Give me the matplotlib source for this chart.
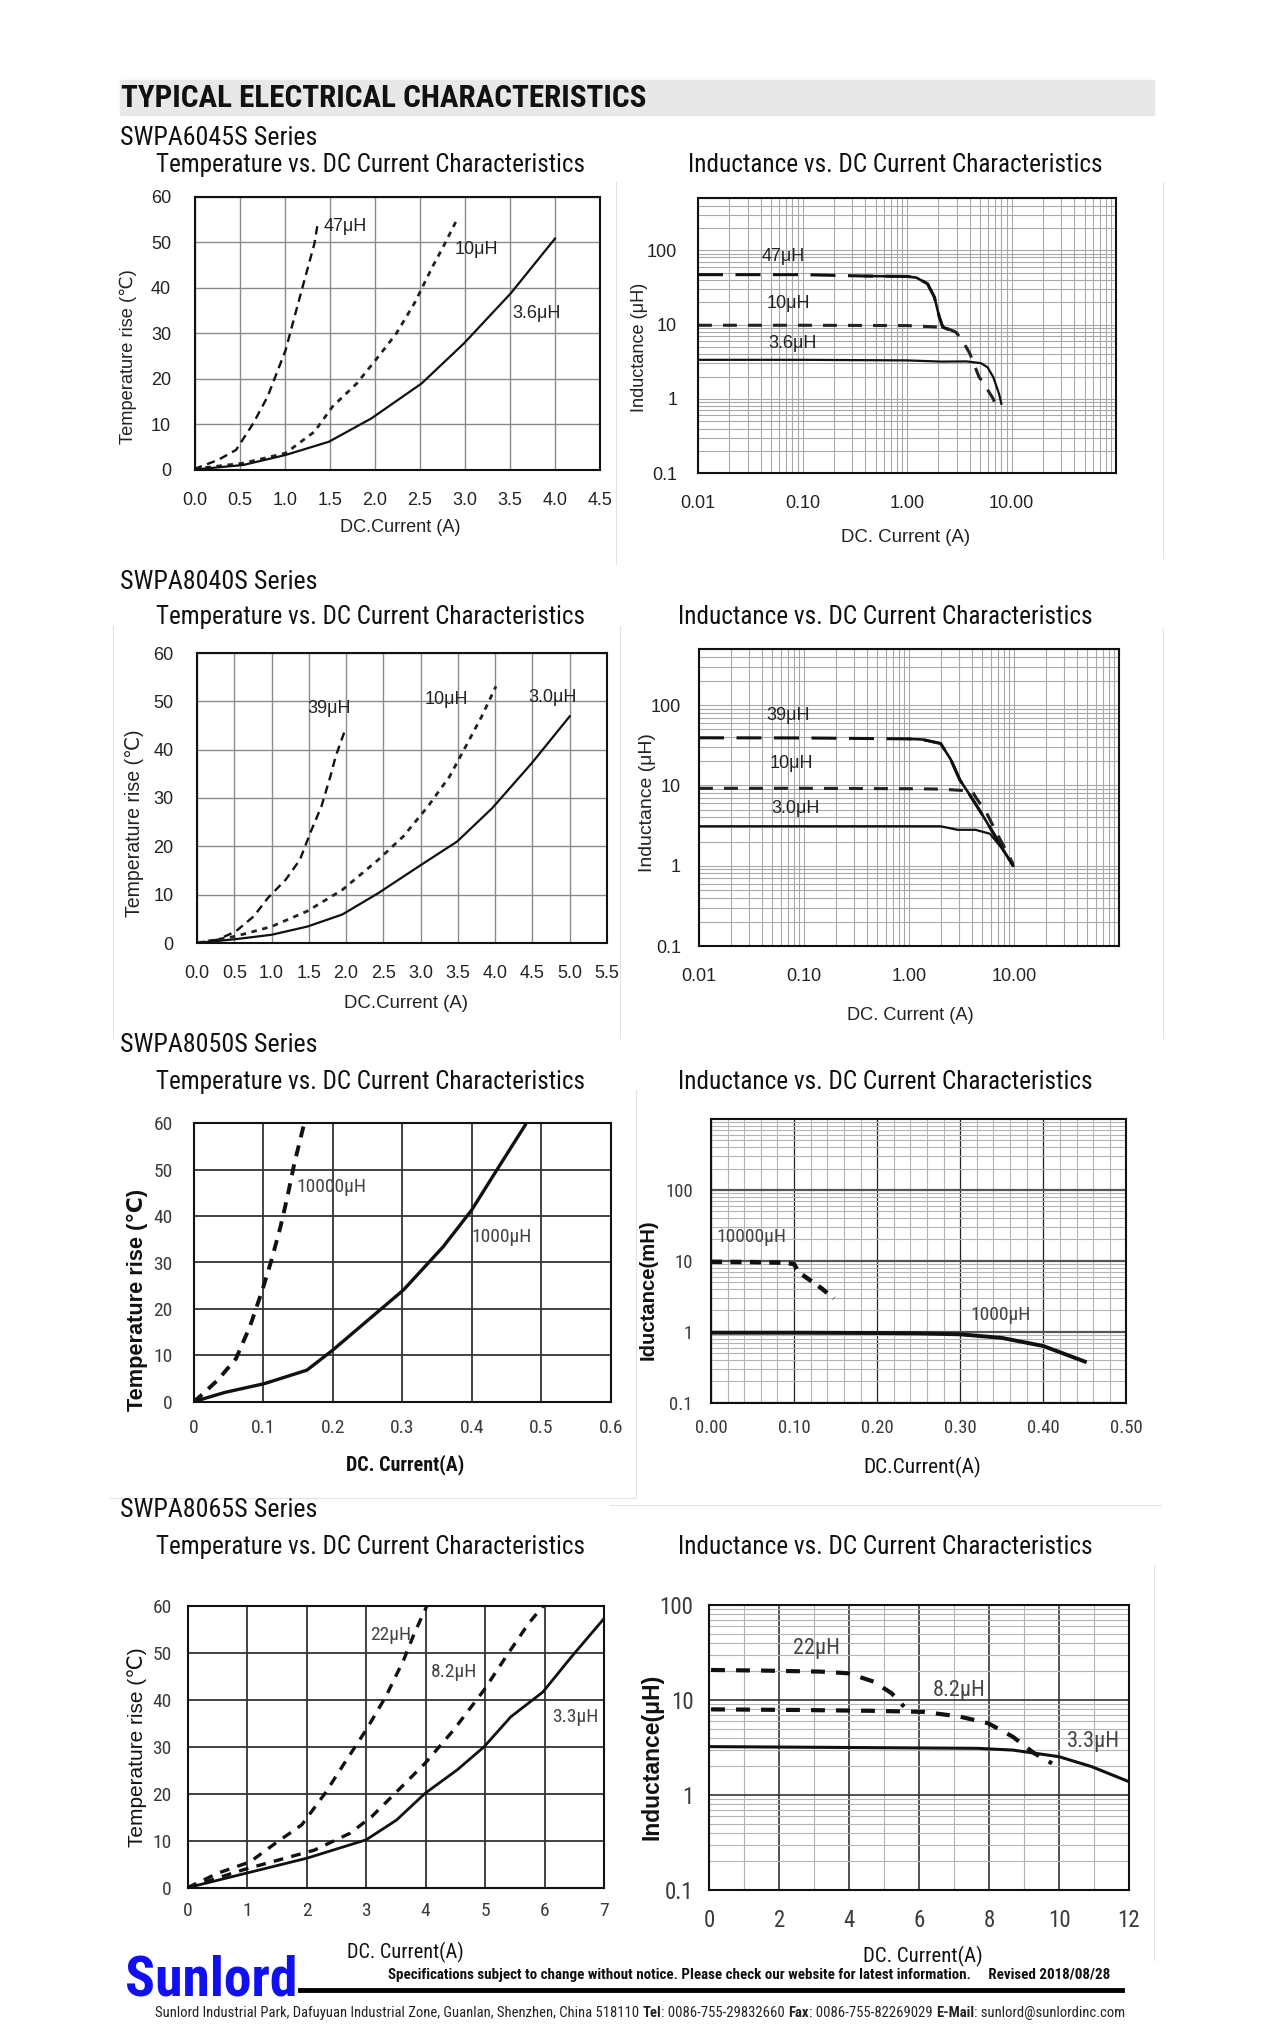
import matplotlib
matplotlib.use('Agg')
import matplotlib.pyplot as plt
from matplotlib.ticker import FixedLocator, NullFormatter, MultipleLocator, LogLocator
import matplotlib.font_manager as fm
from matplotlib.font_manager import FontProperties

W, H = 1266, 2032
plt.rcParams['font.family'] = ['Liberation Sans', 'DejaVu Sans']
plt.rcParams['lines.scale_dashes'] = False

# ---------------- data ----------------
# SWPA6045S temperature rise
t6045_47_x = [0.0, 0.02, 0.26, 0.46, 0.65, 0.81, 1.01, 1.11, 1.21, 1.33, 1.37]
t6045_47_y = [0.0, 0.4, 2.2, 4.4, 10.2, 16.1, 26.3, 33.7, 41.0, 49.7, 54.5]
t6045_10_x = [0.0, 0.06, 0.54, 1.01, 1.33, 1.53, 1.80, 2.04, 2.24, 2.44, 2.64, 2.76, 2.91]
t6045_10_y = [0.0, 0.4, 1.5, 3.7, 8.4, 13.9, 19.0, 24.9, 30.0, 36.6, 44.6, 49.0, 54.9]
t6045_36_x = [0.0, 0.54, 1.01, 1.49, 1.96, 2.52, 2.99, 3.51, 4.0]
t6045_36_y = [0.1, 1.1, 3.3, 6.2, 11.3, 19.0, 27.8, 38.8, 50.8]
# SWPA6045S inductance
l6045_47_x = [0.01, 0.1, 0.4, 1.0, 1.23, 1.57, 1.83, 2.04, 2.2, 2.5]
l6045_47_y = [47, 47, 45, 44.5, 42.8, 35.5, 23.4, 12.6, 9.25, 8.6]
l6045_10_x = [0.01, 0.1, 1.0, 2.3, 2.94, 3.4, 4.0, 4.5, 4.9, 5.3, 5.7, 6.7, 7.4]
l6045_10_y = [9.8, 9.8, 9.7, 9.2, 7.9, 6.1, 4.05, 2.67, 1.96, 1.7, 1.44, 1.0, 0.66]
l6045_36_x = [0.01, 0.1, 1.0, 2.14, 3.7, 5.1, 5.9, 6.7, 7.6, 8.0]
l6045_36_y = [3.36, 3.36, 3.3, 3.18, 3.2, 3.03, 2.67, 1.96, 1.17, 0.86]
# SWPA8040S temperature rise
t8040_39_x = [0.0, 0.04, 0.28, 0.52, 0.76, 0.95, 1.19, 1.38, 1.52, 1.67, 1.79, 1.86, 1.98]
t8040_39_y = [0.0, 0.1, 0.7, 2.4, 5.5, 9.3, 13.1, 17.2, 22.8, 28.3, 34.5, 38.6, 43.8]
t8040_10_x = [0.0, 0.52, 1.0, 1.48, 1.95, 2.43, 2.77, 3.1, 3.39, 3.63, 3.82, 4.01]
t8040_10_y = [0.0, 1.4, 3.4, 6.6, 11.0, 17.2, 22.1, 28.3, 34.5, 41.4, 46.9, 53.1]
t8040_30_x = [0.0, 0.52, 1.0, 1.48, 1.95, 2.43, 3.01, 3.49, 3.96, 4.49, 5.0]
t8040_30_y = [0.0, 0.8, 1.7, 3.4, 5.9, 10.3, 16.2, 21.0, 27.9, 37.2, 46.9]
# SWPA8040S inductance
l8040_39_x = [0.01, 0.1, 0.99, 1.34, 2.0, 2.5, 3.05, 3.7, 4.7, 5.9, 7.5, 9.8]
l8040_39_y = [39.2, 39.0, 38.0, 37.3, 33.3, 21.0, 11.7, 8.0, 4.9, 3.0, 1.78, 1.0]
l8040_10_x = [0.01, 0.1, 1.0, 2.0, 4.0, 4.3, 5.5, 6.9, 8.1, 9.8]
l8040_10_y = [9.2, 9.2, 9.1, 9.0, 8.5, 7.2, 4.5, 2.5, 1.7, 1.05]
l8040_30_x = [0.01, 0.1, 1.0, 2.0, 2.9, 4.3, 5.9, 7.5, 9.8]
l8040_30_y = [3.1, 3.1, 3.1, 3.1, 2.8, 2.8, 2.5, 1.7, 1.0]
# SWPA8050S temperature rise
t8050_10000_x = [0.0, 0.009, 0.035, 0.061, 0.081, 0.099, 0.112, 0.125, 0.135, 0.145, 0.158]
t8050_10000_y = [0.0, 1.1, 4.7, 9.3, 16.2, 24.1, 30.5, 37.7, 44.2, 51.4, 59.3]
t8050_1000_x = [0.0, 0.045, 0.102, 0.163, 0.2, 0.251, 0.302, 0.359, 0.4, 0.436, 0.477]
t8050_1000_y = [0.0, 2.0, 3.9, 6.8, 11.1, 17.6, 24.1, 33.4, 41.3, 49.9, 59.6]
# SWPA8050S inductance (mH)
l8050_10000_x = [0.0, 0.05, 0.09, 0.10, 0.105, 0.133, 0.148]
l8050_10000_y = [9.7, 9.6, 9.4, 9.0, 7.0, 4.1, 2.95]
l8050_1000_x = [0.0, 0.1, 0.2, 0.25, 0.3, 0.35, 0.4, 0.45]
l8050_1000_y = [0.97, 0.97, 0.96, 0.95, 0.92, 0.82, 0.63, 0.38]
# SWPA8065S temperature rise
t8065_22_x = [0.0, 0.51, 1.05, 1.47, 1.92, 2.31, 2.67, 3.0, 3.33, 3.63, 3.81, 4.02]
t8065_22_y = [0.0, 3.1, 5.5, 9.4, 13.4, 20.1, 27.2, 33.6, 40.7, 48.5, 54.2, 60.0]
t8065_82_x = [0.0, 0.93, 1.53, 2.13, 2.73, 3.09, 3.51, 3.99, 4.47, 4.98, 5.37, 5.73, 5.97]
t8065_82_y = [0.0, 3.8, 5.9, 8.0, 11.6, 15.1, 20.4, 26.5, 33.6, 42.1, 49.6, 56.3, 60.0]
t8065_33_x = [0.0, 0.99, 2.01, 3.0, 3.51, 3.99, 4.53, 4.98, 5.43, 5.97, 6.45, 7.0]
t8065_33_y = [0.0, 3.1, 6.3, 10.2, 14.4, 20.1, 25.1, 30.0, 36.4, 41.7, 49.2, 57.4]
# SWPA8065S inductance
l8065_22_x = [0.05, 1.53, 3.17, 3.98, 4.7, 5.21, 5.57]
l8065_22_y = [20.7, 20.4, 19.9, 19.1, 15.6, 11.8, 8.5]
l8065_82_x = [0.05, 2.55, 4.6, 6.13, 7.15, 7.97, 8.68, 9.29, 9.8]
l8065_82_y = [7.97, 7.85, 7.7, 7.5, 6.7, 5.7, 4.1, 2.75, 2.15]
l8065_33_x = [0.0, 3.57, 7.66, 8.68, 10.0, 10.93, 12.0]
l8065_33_y = [3.23, 3.17, 3.1, 2.97, 2.53, 1.99, 1.38]

# tick labels
tx_6045 = ['0.0', '0.5', '1.0', '1.5', '2.0', '2.5', '3.0', '3.5', '4.0', '4.5']
tx_8040 = ['0.0', '0.5', '1.0', '1.5', '2.0', '2.5', '3.0', '3.5', '4.0', '4.5', '5.0', '5.5']
tx_8050 = ['0', '0.1', '0.2', '0.3', '0.4', '0.5', '0.6']
tx_8050L = ['0.00', '0.10', '0.20', '0.30', '0.40', '0.50']
tx_8065 = ['0', '1', '2', '3', '4', '5', '6', '7']
tx_8065L = ['0', '2', '4', '6', '8', '10', '12']
tx_log = ['0.01', '0.10', '1.00', '10.00']
ty_temp = ['0', '10', '20', '30', '40', '50', '60']
ty_log = ['0.1', '1', '10', '100']


# ---------------- narrow font lookup ----------------
def _wt(f):
    w = f.weight
    if isinstance(w, str):
        return 700 if 'bold' in w.lower() else 400
    return w


def find_narrow(bold):
    ents = [f for f in fm.fontManager.ttflist if f.style == 'normal']
    want = 700 if bold else 400

    def ok_w(f):
        return abs(_wt(f) - want) <= 100

    for name in ['Liberation Sans Narrow', 'Arial Narrow', 'Roboto Condensed',
                 'Open Sans Condensed', 'DejaVu Sans Condensed', 'Noto Sans Condensed']:
        for f in ents:
            if f.name == name and ok_w(f):
                return f.fname
    for fam in ['Liberation Sans', 'Roboto', 'Noto Sans', 'Open Sans', 'DejaVu Sans']:
        for st in ['condensed', 'semi-condensed']:
            for f in ents:
                if f.name == fam and str(f.stretch) == st and ok_w(f):
                    return f.fname
    return None


_nr = find_narrow(False)
_nb = find_narrow(True)


def NF(bold=False):
    fn = _nb if bold else _nr
    if fn:
        return {'fontproperties': FontProperties(fname=fn)}
    return {'family': ['Liberation Sans', 'DejaVu Sans'], 'weight': 'bold' if bold else 'normal'}


def NFP(size):
    if _nr:
        return FontProperties(fname=_nr, size=size)
    return FontProperties(family=['Liberation Sans', 'DejaVu Sans'], size=size * 0.88)


# ---------------- figure ----------------
fig = plt.figure(figsize=(W / 100, H / 100), dpi=100)
fig.patch.set_facecolor('white')
R = fig.canvas.get_renderer()


def fx(x):
    return x / W


def fy(y):
    return 1 - y / H


def ftext(x, y, s, width=None, size=12, rotation=0, ha='left', va='center', **kw):
    t = fig.text(fx(x), fy(y), s, rotation=rotation, ha=ha, va=va, **kw)
    t.set_fontsize(size)
    if width:
        bb = t.get_window_extent(renderer=R)
        ext = bb.height if rotation else bb.width
        t.set_fontsize(size * width / ext)
    return t


def fline(x0, y0, x1, y1, color='#e2e2e2', lw=0.8):
    fig.lines.append(plt.Line2D([fx(x0), fx(x1)], [fy(y0), fy(y1)],
                                transform=fig.transFigure, color=color, lw=lw))


def make_axes(l, r, t, b):
    ax = fig.add_axes([fx(l), fy(b), (r - l) / W, (b - t) / H])
    for s in ax.spines.values():
        s.set_linewidth(1.5)
        s.set_color('#111111')
    ax.set_axisbelow(True)
    return ax


def narrow_ticks(ax, size):
    for t in ax.get_xticklabels() + ax.get_yticklabels():
        t.set_fontproperties(NFP(size))
        t.set_color('#3a3a3a')


def lin_panel(ax, xmax, xstep, xlabels, xpad, ypad, fs, gc, glw, tcolor='#222222'):
    ax.set_xlim(0, xmax)
    ax.set_ylim(0, 60)
    n = len(xlabels)
    ax.set_xticks([i * xstep for i in range(n)])
    ax.set_xticklabels(xlabels)
    ax.set_yticks([i * 10 for i in range(len(ty_temp))])
    ax.set_yticklabels(ty_temp)
    ax.grid(True, color=gc, lw=glw)
    ax.tick_params(length=0, labelsize=fs, labelcolor=tcolor)
    ax.tick_params(axis='x', pad=xpad)
    ax.tick_params(axis='y', pad=ypad)


def log_panel(ax, ytop, xpad, ypad, fs):
    ax.set_xscale('log')
    ax.set_yscale('log')
    ax.set_xlim(0.01, 100)
    ax.set_ylim(0.1, ytop)
    ax.xaxis.set_major_locator(FixedLocator([0.01, 0.1, 1, 10]))
    ax.set_xticklabels(tx_log)
    ax.yaxis.set_major_locator(FixedLocator([0.1, 1, 10, 100]))
    ax.set_yticklabels(ty_log)
    ax.xaxis.set_minor_locator(LogLocator(base=10, subs=range(2, 10), numticks=20))
    ax.yaxis.set_minor_locator(LogLocator(base=10, subs=range(2, 10), numticks=20))
    ax.xaxis.set_minor_formatter(NullFormatter())
    ax.yaxis.set_minor_formatter(NullFormatter())
    ax.grid(True, which='both', color='#a8a8a8', lw=0.8)
    ax.tick_params(which='both', length=0, labelsize=fs, labelcolor='#222222')
    ax.tick_params(axis='x', pad=xpad)
    ax.tick_params(axis='y', pad=ypad)


def plot_split(ax, xs, ys, thr, lw, dashes):
    ax.plot(xs, ys, color='#111', lw=lw, dashes=dashes)
    sx = [x for x in xs if x >= thr]
    sy = [y for x, y in zip(xs, ys) if x >= thr]
    ax.plot(sx, sy, color='#111', lw=lw * 0.85)


def nlabel(ax, x, y, s, size=14):
    ax.text(x, y, s, fontproperties=NFP(size), color='#444444', ha='left', va='center')


LBL = dict(fontsize=13, color='#222222', ha='left', va='center')

# ---------- faint chart-area borders ----------
fline(616, 182, 616, 564)
fline(1163, 182, 1163, 558)
fline(113, 626, 113, 1038)
fline(620, 626, 620, 1038)
fline(1163, 629, 1163, 1038)
fline(636, 1090, 636, 1498)
fline(110, 1498, 636, 1498)
fline(610, 1505, 1161, 1505)
fline(1154, 1565, 1154, 1960)

# ---------- header ----------
fig.patches.append(plt.Rectangle((fx(120), fy(115)), (1154 - 120) / W, 35 / H,
                                 transform=fig.transFigure, color='#e8e8e8', zorder=0))
ftext(121, 98, 'TYPICAL ELECTRICAL CHARACTERISTICS', width=525, size=20,
      color='#111111', **NF(True))

# series / titles
for y, s in [(138, 'SWPA6045S Series'), (582, 'SWPA8040S Series'),
             (1045, 'SWPA8050S Series'), (1510, 'SWPA8065S Series')]:
    ftext(120, y, s, width=198, size=14, color='#111111', **NF())
for y in [165, 617, 1082, 1547]:
    ftext(370, y, 'Temperature vs. DC Current Characteristics', width=431, size=18,
          ha='center', color='#111111', **NF())
for x, y in [(895, 165), (885, 617), (885, 1082), (885, 1547)]:
    ftext(x, y, 'Inductance vs. DC Current Characteristics', width=415, size=18,
          ha='center', color='#111111', **NF())

# ---------- P1: 6045 temperature ----------
ax = make_axes(194.6, 600, 196.7, 470)
lin_panel(ax, 4.5, 0.5, tx_6045, 15.5, 17, 13, '#8a8a8a', 1.0)
ax.plot(t6045_47_x, t6045_47_y, color='#111', lw=1.7, dashes=(6, 4))
ax.plot(t6045_10_x, t6045_10_y, color='#222', lw=2.0, dashes=(4, 4))
ax.plot(t6045_36_x, t6045_36_y, color='#111', lw=1.6)
ax.text(1.43, 53.4, '47μH', **LBL)
ax.text(2.89, 48.3, '10μH', **LBL)
ax.text(3.53, 34.4, '3.6μH', **LBL)
ftext(400, 528, 'DC.Current (A)', width=121, size=12, ha='center', color='#222')
ftext(128.6, 357, 'Temperature rise (℃)', width=175, size=12, rotation=90, ha='center', color='#222')

# ---------- P2: 6045 inductance ----------
ax = make_axes(698, 1116, 198.3, 473.3)
log_panel(ax, 500, 15.8, 15, 13)
plot_split(ax, l6045_47_x, l6045_47_y, 0.4, 2.2, (18, 9))
ax.plot(l6045_10_x, l6045_10_y, color='#222', lw=2.2, dashes=(10, 8))
ax.plot(l6045_36_x, l6045_36_y, color='#111', lw=1.6)
ax.text(0.041, 83, '47μH', **LBL)
ax.text(0.045, 19, '10μH', **LBL)
ax.text(0.047, 5.5, '3.6μH', **LBL)
ftext(906, 538, 'DC. Current (A)', width=130, size=12, ha='center', color='#222')
ftext(640, 347, 'Inductance (μH)', width=130, size=12, rotation=90, ha='center', color='#222')

# ---------- P3: 8040 temperature ----------
ax = make_axes(197, 607, 653, 943)
lin_panel(ax, 5.5, 0.5, tx_8040, 16, 17, 13, '#8a8a8a', 1.0)
ax.plot(t8040_39_x, t8040_39_y, color='#111', lw=1.7, dashes=(6, 4))
ax.plot(t8040_10_x, t8040_10_y, color='#222', lw=2.0, dashes=(4, 4))
ax.plot(t8040_30_x, t8040_30_y, color='#111', lw=1.6)
ax.text(1.48, 48.6, '39μH', **LBL)
ax.text(3.06, 50.3, '10μH', **LBL)
ax.text(4.45, 50.7, '3.0μH', **LBL)
ftext(406, 1003, 'DC.Current (A)', width=124, size=12, ha='center', color='#222')
ftext(134, 823, 'Temperature rise (℃)', width=187, size=12, rotation=90, ha='center', color='#222')

# ---------- P4: 8040 inductance ----------
ax = make_axes(699, 1119, 649, 946)
log_panel(ax, 500, 16, 13, 13)
plot_split(ax, l8040_39_x, l8040_39_y, 0.99, 2.2, (18, 9))
ax.plot(l8040_10_x, l8040_10_y, color='#222', lw=2.2, dashes=(10, 8))
ax.plot(l8040_30_x, l8040_30_y, color='#111', lw=1.6)
ax.text(0.044, 75, '39μH', **LBL)
ax.text(0.047, 19, '10μH', **LBL)
ax.text(0.049, 5.2, '3.0μH', **LBL)
ftext(910, 1015, 'DC. Current (A)', width=127, size=12, ha='center', color='#222')
ftext(647, 803, 'Inductance (μH)', width=139, size=12, rotation=90, ha='center', color='#222')

# ---------- P5: 8050 temperature ----------
ax = make_axes(193.6, 610.7, 1123.3, 1401.7)
lin_panel(ax, 0.6, 0.1, tx_8050, 12.5, 15, 12, '#333333', 1.3, tcolor='#444444')
narrow_ticks(ax, 14)
ax.plot(t8050_10000_x, t8050_10000_y, color='#111', lw=2.8, dashes=(8, 6))
ax.plot(t8050_1000_x, t8050_1000_y, color='#111', lw=2.4)
nlabel(ax, 0.148, 46.3, '10000μH')
nlabel(ax, 0.4, 35.6, '1000μH')
ftext(405, 1465, 'DC. Current(A)', width=118, size=12, ha='center', color='#111', **NF(True))
ftext(137.5, 1300, 'Temperature rise (℃)', width=222, size=14, rotation=90, ha='center',
      weight='bold', color='#111')

# ---------- P6: 8050 inductance ----------
ax = make_axes(711, 1126.4, 1119, 1402.7)
ax.set_yscale('log')
ax.set_xlim(0, 0.5)
ax.set_ylim(0.1, 1000)
ax.set_xticks([i * 0.1 for i in range(len(tx_8050L))])
ax.set_xticklabels(tx_8050L)
ax.xaxis.set_minor_locator(MultipleLocator(0.02))
ax.yaxis.set_major_locator(FixedLocator([0.1, 1, 10, 100]))
ax.set_yticklabels(ty_log)
ax.yaxis.set_minor_locator(LogLocator(base=10, subs=range(2, 10), numticks=20))
ax.yaxis.set_minor_formatter(NullFormatter())
ax.grid(True, which='minor', color='#b4b4b4', lw=0.8)
ax.grid(True, axis='x', which='major', color='#222222', lw=0.9)
ax.grid(True, axis='y', which='major', color='#555555', lw=1.6)
ax.tick_params(which='both', length=0, labelsize=12, labelcolor='#444444')
ax.tick_params(axis='x', pad=11.7)
ax.tick_params(axis='y', pad=13)
narrow_ticks(ax, 13.5)
ax.plot(l8050_10000_x, l8050_10000_y, color='#111', lw=3.2, dashes=(8, 6))
ax.plot(l8050_1000_x, l8050_1000_y, color='#111', lw=2.8)
nlabel(ax, 0.007, 21.9, '10000μH')
nlabel(ax, 0.312, 1.72, '1000μH')
ftext(922, 1467, 'DC.Current(A)', width=118, size=12, ha='center', color='#111', **NF())
ftext(648.6, 1290, 'Iductance(mH)', width=140, size=13, rotation=90, ha='center',
      weight='bold', color='#111')

# ---------- P7: 8065 temperature ----------
ax = make_axes(187.5, 604.3, 1606, 1887.7)
lin_panel(ax, 7, 1, tx_8065, 10, 11.5, 13, '#333333', 1.3, tcolor='#444444')
narrow_ticks(ax, 14)
ax.plot(t8065_22_x, t8065_22_y, color='#111', lw=2.4, dashes=(7, 6))
ax.plot(t8065_82_x, t8065_82_y, color='#111', lw=2.4, dashes=(7, 6))
ax.plot(t8065_33_x, t8065_33_y, color='#111', lw=2.0)
nlabel(ax, 3.06, 53.8, '22μH')
nlabel(ax, 4.08, 46.0, '8.2μH')
nlabel(ax, 6.12, 36.4, '3.3μH')
ftext(405, 1952, 'DC. Current(A)', width=116, size=12, ha='center', color='#111', **NF())
ftext(137, 1747, 'Temperature rise (℃)', width=200, size=12, rotation=90, ha='center', color='#111')

# ---------- P8: 8065 inductance ----------
ax = make_axes(709.3, 1129, 1605, 1890)
ax.set_yscale('log')
ax.set_xlim(0, 12)
ax.set_ylim(0.1, 100)
ax.set_xticks([i * 2 for i in range(len(tx_8065L))])
ax.set_xticklabels(tx_8065L)
ax.xaxis.set_minor_locator(MultipleLocator(1))
ax.yaxis.set_major_locator(FixedLocator([0.1, 1, 10, 100]))
ax.set_yticklabels(ty_log)
ax.yaxis.set_minor_locator(LogLocator(base=10, subs=range(2, 10), numticks=20))
ax.yaxis.set_minor_formatter(NullFormatter())
ax.grid(True, which='minor', color='#b4b4b4', lw=0.8)
ax.grid(True, which='major', color='#333333', lw=1.2)
ax.tick_params(which='both', length=0, labelsize=15, labelcolor='#444444')
ax.tick_params(axis='x', pad=13.8)
ax.tick_params(axis='y', pad=11.5)
narrow_ticks(ax, 16.5)
ax.plot(l8065_22_x, l8065_22_y, color='#111', lw=3.0, dashes=(10, 8))
ax.plot(l8065_82_x, l8065_82_y, color='#111', lw=3.0, dashes=(10, 8))
ax.plot(l8065_33_x, l8065_33_y, color='#111', lw=2.2)
nlabel(ax, 2.4, 35, '22μH', 16)
nlabel(ax, 6.38, 12.7, '8.2μH', 16)
nlabel(ax, 10.21, 3.64, '3.3μH', 16)
ftext(923, 1956, 'DC. Current(A)', width=119, size=12, ha='center', color='#111', **NF())
ftext(652, 1757, 'Inductance(μH)', width=167, size=14, rotation=90, ha='center',
      weight='bold', color='#111')

# ---------- footer ----------
ftext(125, 1996, 'Sunlord', width=172, size=40, va='baseline', color='#1010f0', **NF(True))
fline(300, 1990, 1122, 1990, color='black', lw=3.5)
ftext(388, 1975, 'Specifications subject to change without notice. Please check our website '
      'for latest information.     Revised 2018/08/28', width=720, size=9,
      color='#111', **NF(True))

pieces = [('Sunlord Industrial Park, Dafuyuan Industrial Zone, Guanlan, Shenzhen, China 518110 ', False),
          ('Tel', True), (': 0086-755-29832660 ', False), ('Fax', True),
          (': 0086-755-82269029 ', False), ('E-Mail', True), (': sunlord@sunlordinc.com', False)]


def seq_text(x0, y, parts, target, size):
    def layout(sz):
        arts, xc = [], x0
        for s, b in parts:
            t = fig.text(fx(xc), fy(y), s, ha='left', va='center', color='#222', **NF(b))
            t.set_fontsize(sz)
            xc += t.get_window_extent(renderer=R).width
            arts.append(t)
        return arts, xc - x0
    arts, wd = layout(size)
    for a in arts:
        a.remove()
    layout(size * target / wd)


seq_text(155, 2013, pieces, 960, 10)

fig.savefig('out.png', dpi=100, facecolor='white')
